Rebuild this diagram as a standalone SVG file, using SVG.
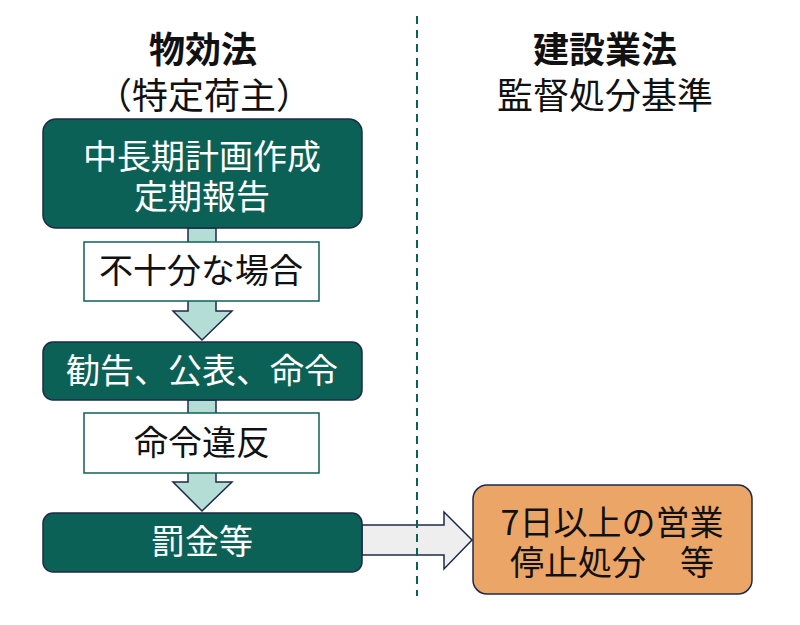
<svg xmlns="http://www.w3.org/2000/svg" width="800" height="625" viewBox="0 0 800 625">
<style>
.t{font-family:"Noto Sans CJK JP","Noto Sans",sans-serif;text-anchor:middle}
.w{fill:#ffffff;font-size:34px}
.k{fill:#111111;font-size:34px}
.h{fill:#111111;font-size:36px}
.b{font-weight:bold}
.main{fill:#0c6157;stroke:#1c2a48;stroke-width:1.5}
.lbl{fill:#ffffff;stroke:#0c6157;stroke-width:1.5}
.arr{fill:#b4ddd6;stroke:#1c2a48;stroke-width:1.5;stroke-linejoin:miter}
</style>
<rect width="800" height="625" fill="#ffffff"/>
<g id="connectors">
<polygon class="arr" points="188,228 216,228 216,311 232,311 202,340 173,311 188,311"/>
<polygon class="arr" points="188,400 216,400 216,482 232,482 202,511 173,482 188,482"/>
<polygon fill="#eeeeee" stroke="#1c2a48" stroke-width="1.5" points="362,525 444,525 444,512 472,540 444,569 444,555 362,555"/>
</g>
<line id="divider" x1="417" y1="16" x2="417" y2="596" stroke="#0c6157" stroke-width="2" stroke-dasharray="8,6"/>
<g id="header-left">
<text class="t h b" x="203" y="63">物効法</text>
<text class="t h" x="204" y="109">（特定荷主）</text>
</g>
<g id="header-right">
<text class="t h b" x="605" y="63">建設業法</text>
<text class="t h" x="605" y="109">監督処分基準</text>
</g>
<g id="node-plan">
<rect class="main" x="43" y="119" width="319" height="109" rx="13"/>
<text class="t w" x="202" y="169">中長期計画作成</text>
<text class="t w" x="202" y="209">定期報告</text>
</g>
<g id="label-insufficient">
<rect class="lbl" x="84" y="242" width="235" height="59"/>
<text class="t k" x="201" y="283">不十分な場合</text>
</g>
<g id="node-advice">
<rect class="main" x="43" y="342" width="319" height="58" rx="10"/>
<text class="t w" x="202" y="383">勧告、公表、命令</text>
</g>
<g id="label-violation">
<rect class="lbl" x="84" y="413" width="235" height="60"/>
<text class="t k" x="202" y="455">命令違反</text>
</g>
<g id="node-fine">
<rect class="main" x="43" y="513" width="319" height="59" rx="10"/>
<text class="t w" x="202" y="554">罰金等</text>
</g>
<g id="node-suspension">
<rect fill="#eba567" stroke="#1c2a48" stroke-width="1.5" x="473" y="485" width="279" height="109" rx="14"/>
<text class="t k" x="612" y="535">7日以上の営業</text>
<text class="t k" x="612" y="575">停止処分　等</text>
</g>
</svg>
